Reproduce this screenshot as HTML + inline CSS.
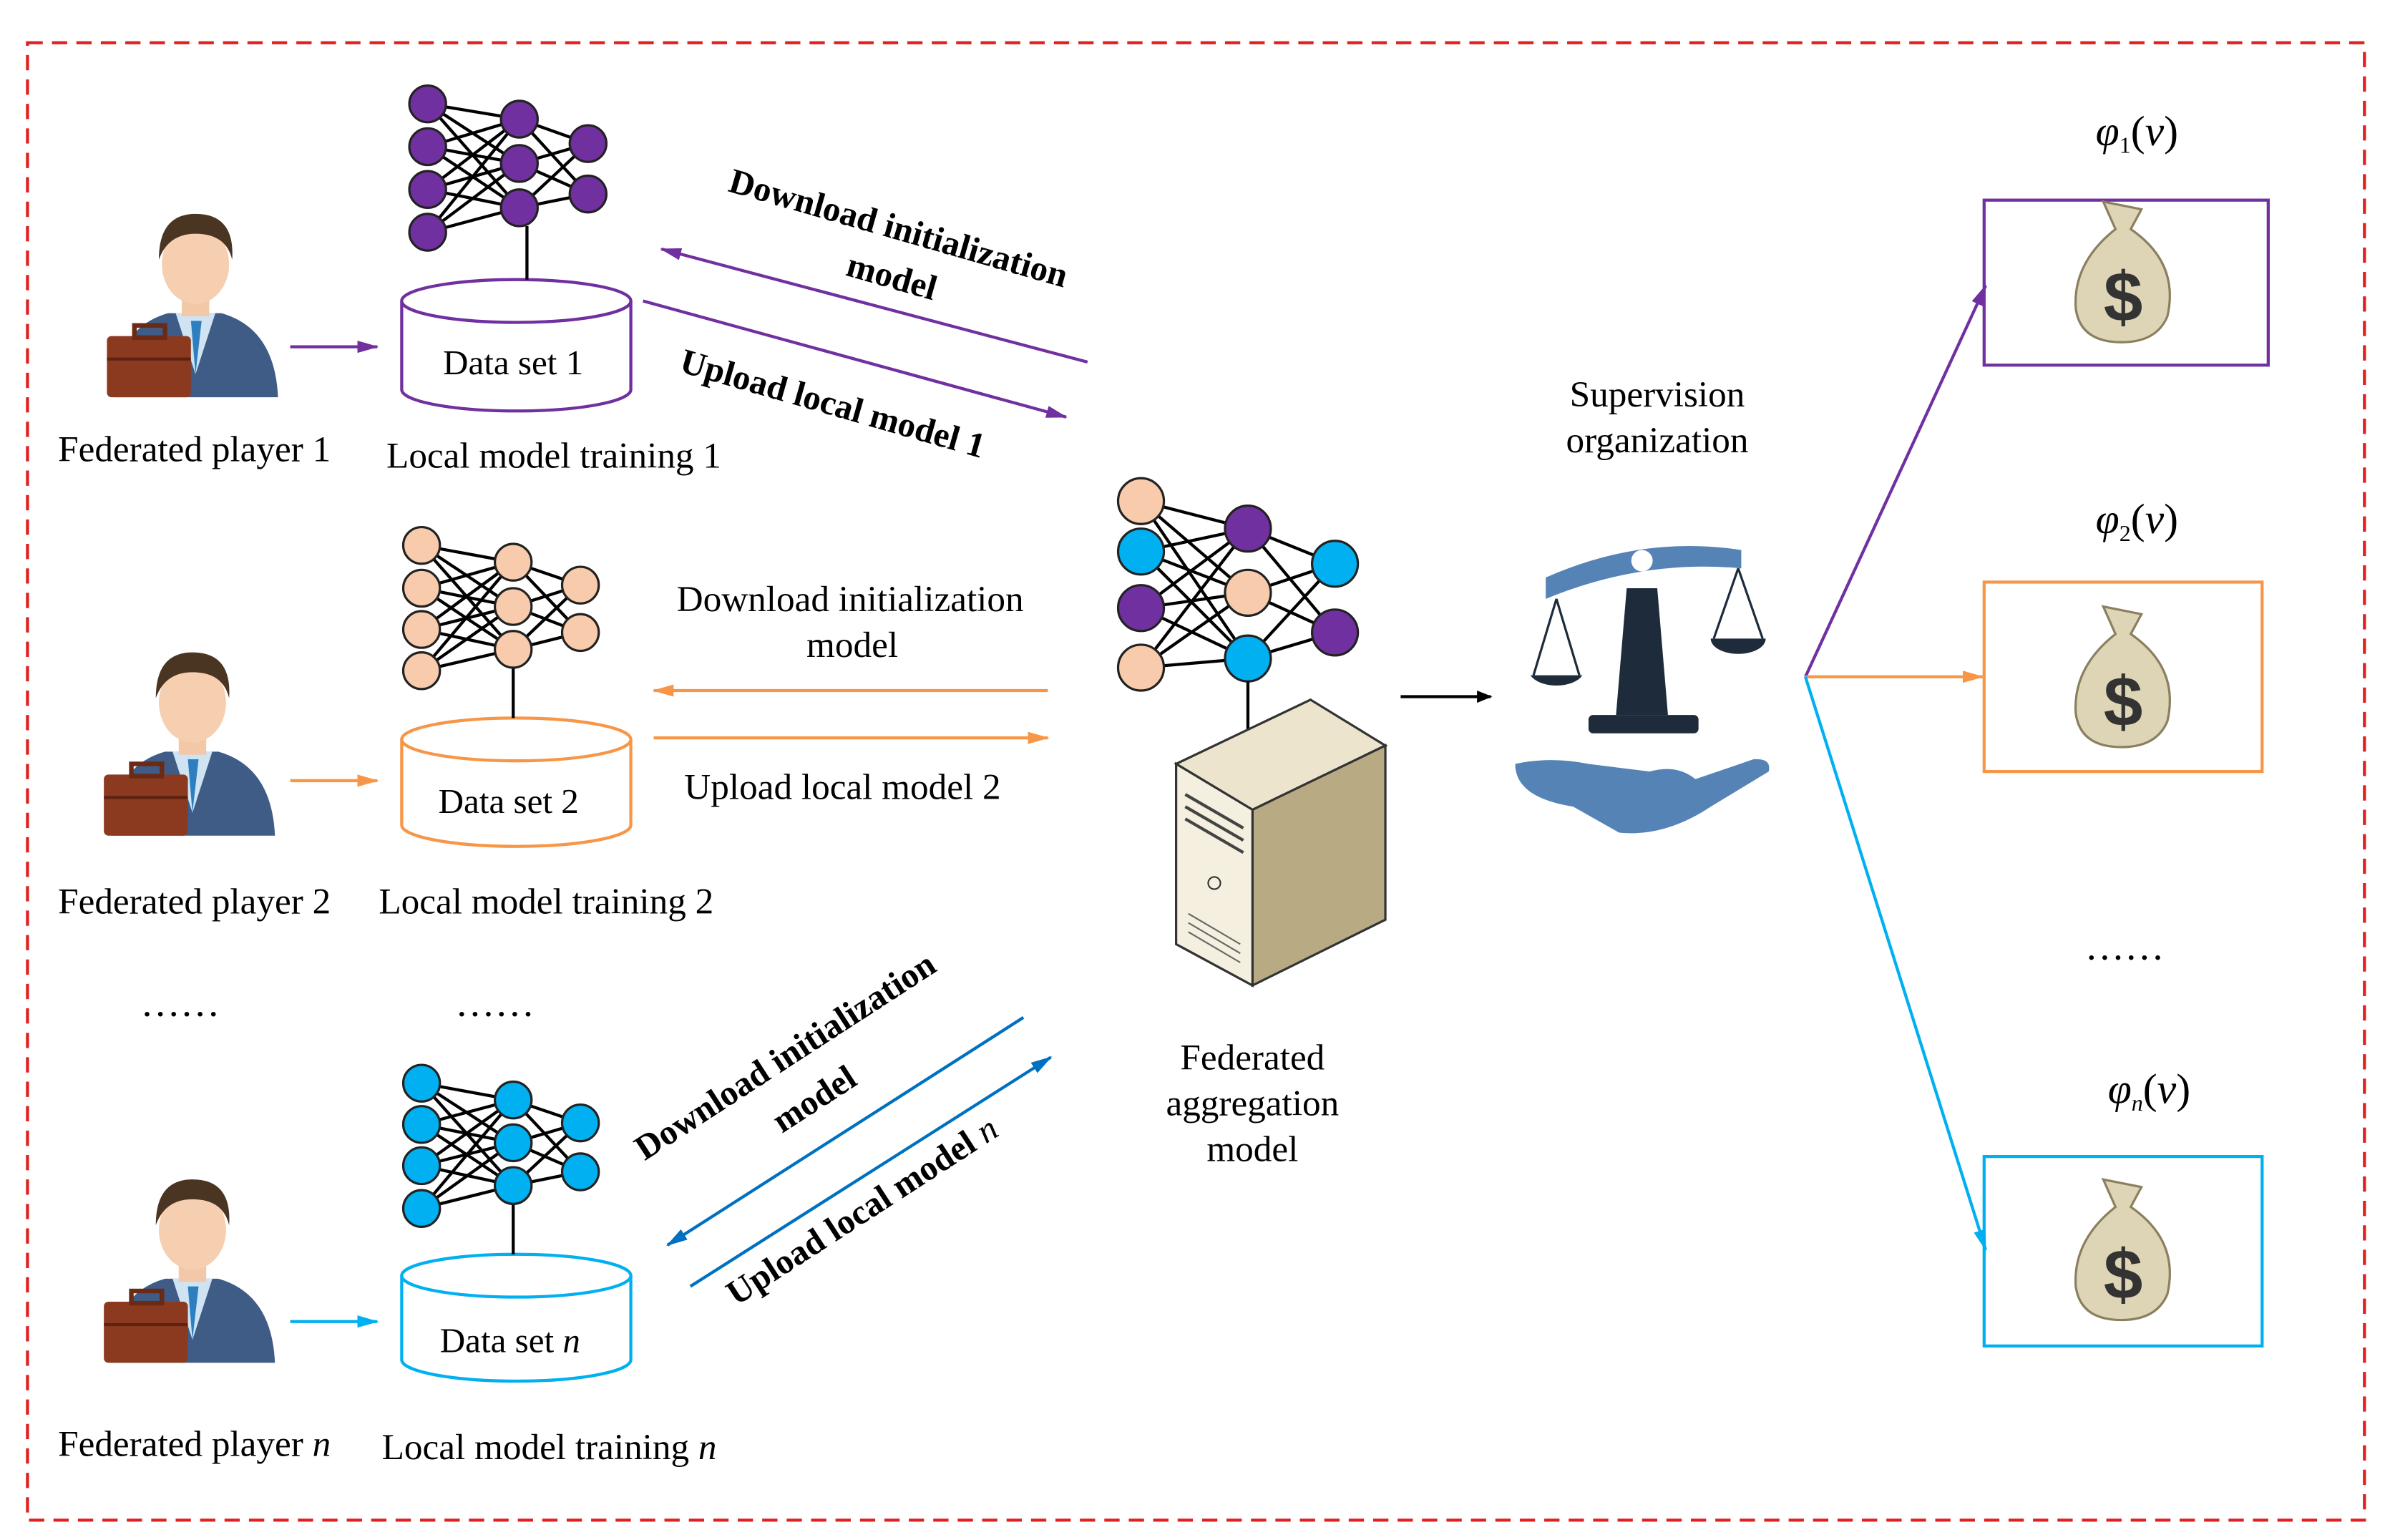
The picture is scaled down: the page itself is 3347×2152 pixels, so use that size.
<!DOCTYPE html>
<html><head><meta charset="utf-8"><style>html,body{margin:0;padding:0;background:#fff}svg{display:block}</style></head><body>
<svg width="3347" height="2152" viewBox="0 0 1568 1008" preserveAspectRatio="none" xmlns="http://www.w3.org/2000/svg" font-family="Liberation Serif, serif">
<defs>
<marker id="ab" markerWidth="10" markerHeight="10" refX="9" refY="5" orient="auto" markerUnits="userSpaceOnUse"><path d="M0,1 L10,5 L0,9 z" fill="#000"/></marker>
<marker id="ap" markerWidth="14" markerHeight="10" refX="13" refY="5" orient="auto" markerUnits="userSpaceOnUse"><path d="M0,1 L14,5 L0,9 z" fill="#7030a0"/></marker>
<marker id="ao" markerWidth="14" markerHeight="10" refX="13" refY="5" orient="auto" markerUnits="userSpaceOnUse"><path d="M0,1 L14,5 L0,9 z" fill="#f79646"/></marker>
<marker id="ac" markerWidth="14" markerHeight="10" refX="13" refY="5" orient="auto" markerUnits="userSpaceOnUse"><path d="M0,1 L14,5 L0,9 z" fill="#00b0f0"/></marker>
<marker id="ad" markerWidth="14" markerHeight="10" refX="13" refY="5" orient="auto" markerUnits="userSpaceOnUse"><path d="M0,1 L14,5 L0,9 z" fill="#0070c0"/></marker>
<g id="person">
<path d="M5,125 Q5,80 40,70 L75,70 Q110,80 112,125 Z" fill="#3f5c86"/>
<path d="M45,70 L58,110 L71,70 Z" fill="#cfe3f3"/>
<path d="M55,75 L58,110 L62,75 Z" fill="#2e7fc0"/>
<rect x="49" y="52" width="18" height="20" fill="#f2c8a8"/>
<ellipse cx="58" cy="38" rx="22" ry="26" fill="#f6cfb0"/>
<path d="M34,35 Q34,5 58,5 Q84,5 82,35 Q78,18 58,18 Q40,18 34,35 Z" fill="#4a3422"/>
<rect x="0" y="85" width="55" height="40" rx="3" fill="#8b3a20"/>
<rect x="18" y="78" width="20" height="8" fill="none" stroke="#6a2a15" stroke-width="3"/>
<line x1="0" y1="100" x2="55" y2="100" stroke="#5e2210" stroke-width="2"/>
</g>
<g id="bag">
<path d="M20,0 L45,5 L38,18 Q70,40 62,75 Q55,92 32,92 Q5,92 2,70 Q0,40 28,18 Z" fill="#ddd5b5" stroke="#8a8060" stroke-width="1.5"/>
<text x="33" y="78" font-family="Liberation Sans, sans-serif" font-size="46" font-weight="bold" text-anchor="middle" fill="#333">$</text>
</g>
</defs>
<rect x="0" y="0" width="1568" height="1008" fill="#fff"/>
<rect x="18" y="28" width="1530" height="967" fill="none" stroke="#e02020" stroke-width="2" stroke-dasharray="10,6"/>

<use href="#person" x="70" y="135"/>
<use href="#person" x="68" y="422"/>
<use href="#person" x="68" y="767"/>

<g font-size="24" fill="#000">
<text x="38" y="302">Federated player 1</text>
<text x="253" y="306">Local model training 1</text>
<text x="38" y="598">Federated player 2</text>
<text x="248" y="598">Local model training 2</text>
<text x="38" y="953">Federated player <tspan font-style="italic">n</tspan></text>
<text x="250" y="955">Local model training  <tspan font-style="italic">n</tspan></text>
<text x="92" y="665" font-size="26">……</text>
<text x="298" y="665" font-size="26">……</text>
<text x="1365" y="628" font-size="26">……</text>
<text x="443" y="400" >Download initialization</text>
<text x="528" y="430">model</text>
<text x="448" y="523">Upload local model 2</text>
<text x="1085" y="266" text-anchor="middle">Supervision</text>
<text x="1085" y="296" text-anchor="middle">organization</text>
<text x="820" y="700" text-anchor="middle">Federated</text>
<text x="820" y="730" text-anchor="middle">aggregation</text>
<text x="820" y="760" text-anchor="middle">model</text>
</g>
<g font-size="23" font-weight="bold">
<text transform="translate(476,125) rotate(16)">Download initialization</text>
<text transform="translate(553,180) rotate(16)">model</text>
<text transform="translate(444,243) rotate(16)">Upload local model 1</text>
<text transform="translate(422,760) rotate(-33)">Download initialization</text>
<text transform="translate(512,742) rotate(-33)">model</text>
<text transform="translate(482,855) rotate(-33)">Upload local model <tspan font-style="italic" font-weight="normal">n</tspan></text>
</g>
<g font-size="28" font-style="italic">
<text x="1372" y="95">φ<tspan font-size="15" dy="5" font-style="normal">1</tspan><tspan dy="-5" font-style="normal">(</tspan>v<tspan font-style="normal">)</tspan></text>
<text x="1372" y="349">φ<tspan font-size="15" dy="5" font-style="normal">2</tspan><tspan dy="-5" font-style="normal">(</tspan>v<tspan font-style="normal">)</tspan></text>
<text x="1380" y="722">φ<tspan font-size="15" dy="5">n</tspan><tspan dy="-5" font-style="normal">(</tspan>v<tspan font-style="normal">)</tspan></text>
</g>

<line x1="190" y1="227" x2="247" y2="227" stroke="#7030a0" stroke-width="2" marker-end="url(#ap)"/>
<line x1="190" y1="511" x2="247" y2="511" stroke="#f79646" stroke-width="2" marker-end="url(#ao)"/>
<line x1="190" y1="865" x2="247" y2="865" stroke="#00b0f0" stroke-width="2" marker-end="url(#ac)"/>

<g fill="#fff" stroke-width="2">
<path d="M263,197 L263,255 A75,14 0 0 0 413,255 L413,197" stroke="#7030a0"/>
<ellipse cx="338" cy="197" rx="75" ry="14" stroke="#7030a0"/>
<path d="M263,484 L263,540 A75,14 0 0 0 413,540 L413,484" stroke="#f79646"/>
<ellipse cx="338" cy="484" rx="75" ry="14" stroke="#f79646"/>
<path d="M263,835 L263,890 A75,14 0 0 0 413,890 L413,835" stroke="#00b0f0"/>
<ellipse cx="338" cy="835" rx="75" ry="14" stroke="#00b0f0"/>
</g>
<g font-size="23">
<text x="290" y="245">Data set 1</text>
<text x="287" y="532">Data set 2</text>
<text x="288" y="885">Data set <tspan font-style="italic">n</tspan></text>
</g>
<line x1="345" y1="148" x2="345" y2="183" stroke="#000" stroke-width="2"/>
<line x1="336" y1="436" x2="336" y2="470" stroke="#000" stroke-width="2"/>
<line x1="336" y1="788" x2="336" y2="821" stroke="#000" stroke-width="2"/>

<g stroke="#000" stroke-width="2">
<path d="M280,68 L340,78 M280,68 L340,107 M280,68 L340,136 M280,96 L340,78 M280,96 L340,107 M280,96 L340,136 M280,124 L340,78 M280,124 L340,107 M280,124 L340,136 M280,152 L340,78 M280,152 L340,107 M280,152 L340,136 M340,78 L385,94 M340,78 L385,127 M340,107 L385,94 M340,107 L385,127 M340,136 L385,94 M340,136 L385,127"/>
<path d="M276,357 L336,368 M276,357 L336,397 M276,357 L336,425 M276,385 L336,368 M276,385 L336,397 M276,385 L336,425 M276,412 L336,368 M276,412 L336,397 M276,412 L336,425 M276,439 L336,368 M276,439 L336,397 M276,439 L336,425 M336,368 L380,383 M336,368 L380,414 M336,397 L380,383 M336,397 L380,414 M336,425 L380,383 M336,425 L380,414"/>
<path d="M276,709 L336,720 M276,709 L336,748 M276,709 L336,776 M276,736 L336,720 M276,736 L336,748 M276,736 L336,776 M276,763 L336,720 M276,763 L336,748 M276,763 L336,776 M276,791 L336,720 M276,791 L336,748 M276,791 L336,776 M336,720 L380,735 M336,720 L380,767 M336,748 L380,735 M336,748 L380,767 M336,776 L380,735 M336,776 L380,767"/>
<path d="M747,328 L817,346 M747,328 L817,388 M747,328 L817,431 M747,361 L817,346 M747,361 L817,388 M747,361 L817,431 M747,398 L817,346 M747,398 L817,388 M747,398 L817,431 M747,437 L817,346 M747,437 L817,388 M747,437 L817,431 M817,346 L874,369 M817,346 L874,414 M817,388 L874,369 M817,388 L874,414 M817,431 L874,369 M817,431 L874,414"/>
</g>
<g stroke="#222" stroke-width="1.5">
<g fill="#7030a0"><circle cx="280" cy="68" r="12"/><circle cx="280" cy="96" r="12"/><circle cx="280" cy="124" r="12"/><circle cx="280" cy="152" r="12"/><circle cx="340" cy="78" r="12"/><circle cx="340" cy="107" r="12"/><circle cx="340" cy="136" r="12"/><circle cx="385" cy="94" r="12"/><circle cx="385" cy="127" r="12"/></g>
<g fill="#f8cbad"><circle cx="276" cy="357" r="12"/><circle cx="276" cy="385" r="12"/><circle cx="276" cy="412" r="12"/><circle cx="276" cy="439" r="12"/><circle cx="336" cy="368" r="12"/><circle cx="336" cy="397" r="12"/><circle cx="336" cy="425" r="12"/><circle cx="380" cy="383" r="12"/><circle cx="380" cy="414" r="12"/></g>
<g fill="#00b0f0"><circle cx="276" cy="709" r="12"/><circle cx="276" cy="736" r="12"/><circle cx="276" cy="763" r="12"/><circle cx="276" cy="791" r="12"/><circle cx="336" cy="720" r="12"/><circle cx="336" cy="748" r="12"/><circle cx="336" cy="776" r="12"/><circle cx="380" cy="735" r="12"/><circle cx="380" cy="767" r="12"/></g>
<circle cx="747" cy="328" r="15" fill="#f8cbad"/><circle cx="747" cy="361" r="15" fill="#00b0f0"/><circle cx="747" cy="398" r="15" fill="#7030a0"/><circle cx="747" cy="437" r="15" fill="#f8cbad"/>
<circle cx="817" cy="346" r="15" fill="#7030a0"/><circle cx="817" cy="388" r="15" fill="#f8cbad"/><circle cx="817" cy="431" r="15" fill="#00b0f0"/>
<circle cx="874" cy="369" r="15" fill="#00b0f0"/><circle cx="874" cy="414" r="15" fill="#7030a0"/>
</g>
<line x1="817" y1="446" x2="817" y2="478" stroke="#000" stroke-width="2"/>

<path d="M770,500 L858,458 L907,488 L820,530 Z" fill="#ece4cc" stroke="#333" stroke-width="1.5"/>
<path d="M820,530 L907,488 L907,602 L820,645 Z" fill="#b8ab84" stroke="#333" stroke-width="1.5"/>
<path d="M770,500 L820,530 L820,645 L770,618 Z" fill="#f4efdf" stroke="#333" stroke-width="1.5"/>
<path d="M776,520 L814,542 M776,528 L814,550 M776,536 L814,558" stroke="#444" stroke-width="2"/>
<circle cx="795" cy="578" r="4" fill="none" stroke="#333"/>
<path d="M778,598 L812,618 M778,604 L812,624 M778,610 L812,630" stroke="#666"/>

<line x1="917" y1="456" x2="976" y2="456" stroke="#000" stroke-width="2" marker-end="url(#ab)"/>

<line x1="712" y1="237" x2="433" y2="163" stroke="#7030a0" stroke-width="2" marker-end="url(#ap)"/>
<line x1="421" y1="197" x2="698" y2="273" stroke="#7030a0" stroke-width="2" marker-end="url(#ap)"/>
<line x1="686" y1="452" x2="428" y2="452" stroke="#f79646" stroke-width="2" marker-end="url(#ao)"/>
<line x1="428" y1="483" x2="686" y2="483" stroke="#f79646" stroke-width="2" marker-end="url(#ao)"/>
<line x1="670" y1="666" x2="437" y2="815" stroke="#0070c0" stroke-width="2" marker-end="url(#ad)"/>
<line x1="452" y1="842" x2="688" y2="692" stroke="#0070c0" stroke-width="2" marker-end="url(#ad)"/>

<g fill="#1d2b3a">
<path d="M1012,378 Q1075,350 1140,360 L1140,372 Q1075,366 1012,392 Z" fill="#5583b5"/>
<circle cx="1075" cy="367" r="7" fill="#fff"/>
<path d="M1065,385 L1085,385 L1092,468 L1058,468 Z"/>
<rect x="1040" y="468" width="72" height="12" rx="3"/>
<path d="M1002,442 A18,10 0 0 0 1036,442 Z"/>
<path d="M1120,418 A18,10 0 0 0 1156,418 Z"/>
</g>
<path d="M1019,392 L1004,442 M1019,392 L1034,442 M1138,372 L1122,418 M1138,372 L1154,418" stroke="#1d2b3a" stroke-width="1.5" fill="none"/>
<path d="M992,500 Q992,522 1030,528 L1060,545 Q1090,548 1120,528 L1158,505 Q1160,496 1148,497 L1110,510 Q1098,500 1080,505 L1040,500 Q1015,495 992,500 Z" fill="#5583b5"/>

<line x1="1182" y1="443" x2="1300" y2="187" stroke="#7030a0" stroke-width="2" marker-end="url(#ap)"/>
<line x1="1182" y1="443" x2="1298" y2="443" stroke="#f79646" stroke-width="2" marker-end="url(#ao)"/>
<line x1="1182" y1="443" x2="1300" y2="818" stroke="#00b0f0" stroke-width="2" marker-end="url(#ac)"/>

<rect x="1299" y="131" width="186" height="108" fill="none" stroke="#7030a0" stroke-width="2"/>
<rect x="1299" y="381" width="182" height="124" fill="none" stroke="#f79646" stroke-width="2"/>
<rect x="1299" y="757" width="182" height="124" fill="none" stroke="#00b0f0" stroke-width="2"/>
<use href="#bag" x="1357" y="132"/>
<use href="#bag" x="1357" y="397"/>
<use href="#bag" x="1357" y="772"/>
</svg>
</body></html>
